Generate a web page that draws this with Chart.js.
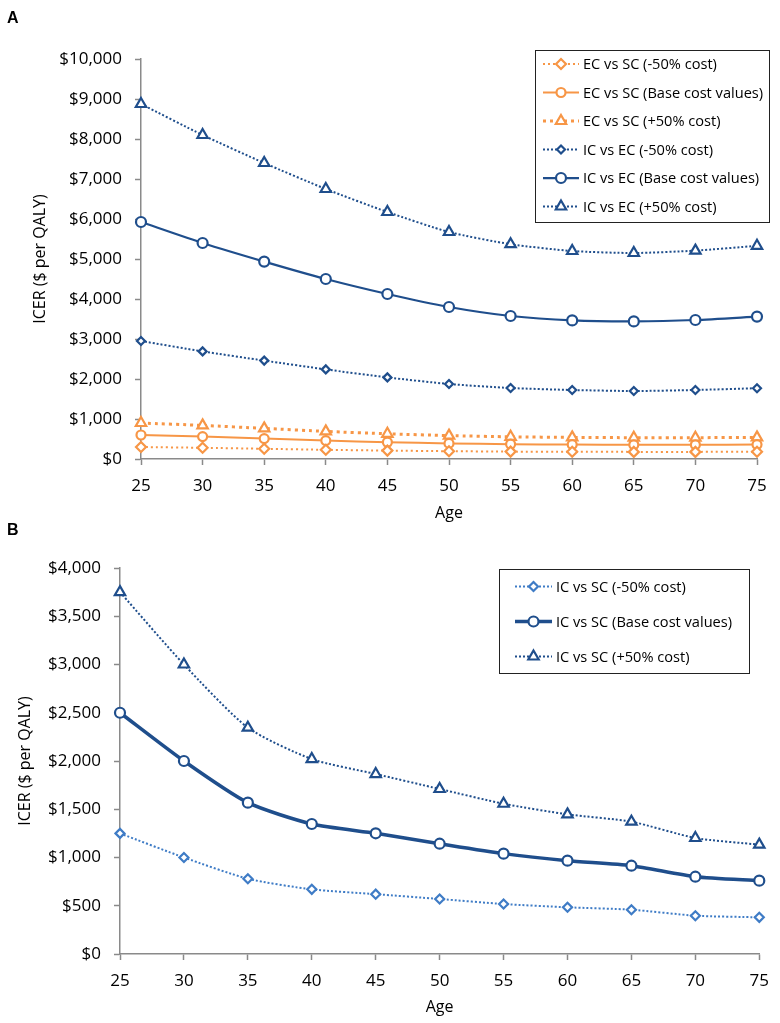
<!DOCTYPE html>
<html>
<head>
<meta charset="utf-8">
<script src="https://cdn.jsdelivr.net/npm/chart.js@4/dist/chart.umd.min.js"></script>
<style>
  body { margin: 0; background: #fff; }
  #wrap { position: relative; width: 780px; height: 1023px; }
  .panel { position: absolute; left: 0; width: 780px; }
  .tag { position: absolute; left: 7px; font: bold 16px "Liberation Sans", Arial, sans-serif; color: #000; z-index: 2; }
</style>
</head>
<body>
<div id="wrap">
  <div class="tag" style="top:9px">A</div>
  <div class="panel" style="top:0;height:525px"><canvas id="chartA"></canvas></div>
  <div class="tag" style="top:521px">B</div>
  <div class="panel" style="top:525px;height:498px"><canvas id="chartB"></canvas></div>
</div>
<script>
'use strict';
//___________DATA__________________
var ages = ['25', '30', '35', '40', '45', '50', '55', '60', '65', '70', '75'];

// panel A
var ecLow  = [300, 280, 255, 230, 210, 195, 185, 180, 178, 178, 180];
var ecBase = [600, 560, 510, 460, 420, 390, 370, 360, 355, 355, 360];
var ecHigh = [900, 840, 765, 690, 630, 585, 555, 540, 533, 533, 540];
var icLow  = [2950, 2690, 2460, 2240, 2040, 1875, 1775, 1725, 1700, 1725, 1770];
var icBase = [5925, 5400, 4935, 4500, 4125, 3800, 3575, 3465, 3440, 3475, 3560];
var icHigh = [8875, 8100, 7400, 6750, 6175, 5675, 5370, 5200, 5150, 5210, 5330];

// panel B
var scLow  = [1250, 1000, 780, 670, 620, 570, 518, 484, 459, 397, 380];
var scBase = [2500, 2000, 1568, 1347, 1251, 1143, 1040, 967, 915, 801, 760];
var scHigh = [3750, 3000, 2345, 2020, 1865, 1710, 1557, 1447, 1371, 1202, 1133];

var labelsA = ['EC vs SC (-50% cost)', 'EC vs SC (Base cost values)', 'EC vs SC (+50% cost)',
  'IC vs EC (-50% cost)', 'IC vs EC (Base cost values)', 'IC vs EC (+50% cost)'];
var labelsB = ['IC vs SC (-50% cost)', 'IC vs SC (Base cost values)', 'IC vs SC (+50% cost)'];

//___________COLORS_________________________________
var orange = '#f79646';
var navy = '#1f4e8c';
var lightBlue = '#3f7cc6';
var axisGrey = '#8a8a8a';
var FONT = '"Open Sans", "Noto Sans", sans-serif';

function series(label, data, color, width, dash, style, radius) {
  return {
    label: label,
    data: data,
    borderColor: color,
    borderWidth: width,
    borderDash: dash,
    pointStyle: style,
    pointRadius: radius,
    pointHoverRadius: radius,
    pointBorderColor: color,
    pointBackgroundColor: '#fff',
    pointBorderWidth: 2.2,
    tension: 0.22,
    fill: false,
    clip: false
  };
}

function drawMarker(ctx, ds, x, y) {
  ctx.save();
  ctx.strokeStyle = ds.pointBorderColor;
  ctx.fillStyle = ds.pointBackgroundColor;
  ctx.lineWidth = ds.pointBorderWidth;
  Chart.helpers.drawPoint(ctx, {pointStyle: ds.pointStyle, radius: ds.pointRadius, rotation: 0, borderWidth: ds.pointBorderWidth}, x, y);
  ctx.restore();
}

// legend drawn inside the plot with a frame, line sample + marker
var boxLegend = {
  id: 'boxLegend',
  afterDraw: function(chart, args, o) {
    var ctx = chart.ctx;
    ctx.save();
    ctx.strokeStyle = '#222';
    ctx.lineWidth = 1;
    ctx.strokeRect(o.x + 0.5, o.y + 0.5, o.w, o.h);
    chart.data.datasets.forEach(function(ds, i) {
      var cy = o.y + o.first + i * o.gap;
      ctx.save();
      ctx.strokeStyle = ds.borderColor;
      ctx.lineWidth = ds.borderWidth;
      ctx.setLineDash(ds.borderDash || []);
      ctx.beginPath();
      ctx.moveTo(o.lx, cy);
      ctx.lineTo(o.lx + o.lw, cy);
      ctx.stroke();
      ctx.restore();
      drawMarker(ctx, ds, o.lx + o.lw / 2, cy);
      ctx.fillStyle = '#000';
      ctx.font = o.font;
      ctx.textBaseline = 'middle';
      ctx.textAlign = 'left';
      ctx.fillText(ds.label, o.tx, cy + 1);
    });
    ctx.restore();
  }
};

function axes(yMax, yStep, yWidth, xHeight, yTitlePad, xTitlePad) {
  return {
    x: {
      offset: false,
      grid: { drawOnChartArea: false, drawTicks: true, tickLength: 6, color: axisGrey, tickColor: axisGrey, tickWidth: 1.5 },
      border: { color: axisGrey, width: 1.5 },
      ticks: { color: '#000', font: { family: FONT, size: 17 }, padding: 11, autoSkip: false, maxRotation: 0 },
      title: { display: true, text: 'Age', color: '#000', font: { family: FONT, size: 16 }, padding: { top: 0, bottom: xTitlePad } },
      afterFit: function(s) { s.height = xHeight; }
    },
    y: {
      min: 0,
      max: yMax,
      grid: { drawOnChartArea: false, drawTicks: true, tickLength: 6, color: axisGrey, tickColor: axisGrey, tickWidth: 1.5 },
      border: { color: axisGrey, width: 1.5 },
      ticks: {
        stepSize: yStep,
        color: '#000',
        font: { family: FONT, size: 17 },
        padding: 13,
        callback: function(v) { return '$' + v.toLocaleString('en-US'); }
      },
      title: { display: true, text: 'ICER ($ per QALY)', color: '#000', font: { family: FONT, size: 16 }, padding: { top: yTitlePad, bottom: 0 } },
      afterFit: function(s) { s.width = yWidth; }
    }
  };
}

//___________PANEL A_________________________________
new Chart(document.getElementById('chartA'), {
  type: 'line',
  data: {
    labels: ages,
    datasets: [
      series(labelsA[0], ecLow, orange, 2, [2, 3], 'rectRot', 5),
      series(labelsA[1], ecBase, orange, 2, [], 'circle', 4.5),
      series(labelsA[2], ecHigh, orange, 3, [3, 4], 'triangle', 6),
      series(labelsA[3], icLow, navy, 2, [2, 2], 'rectRot', 4),
      series(labelsA[4], icBase, navy, 2.25, [], 'circle', 5),
      series(labelsA[5], icHigh, navy, 2, [2, 2], 'triangle', 6)
    ]
  },
  options: {
    responsive: true,
    maintainAspectRatio: false,
    animation: false,
    layout: { padding: { top: 59, right: 23, bottom: 0, left: 0 } },
    scales: axes(10000, 1000, 141, 66, 31, 2),
    plugins: {
      legend: { display: false },
      tooltip: { enabled: false },
      boxLegend: { x: 535, y: 50, w: 234, h: 172, first: 14, gap: 28.5, lx: 543, lw: 36, tx: 583, font: '14.6px ' + FONT }
    }
  },
  plugins: [boxLegend]
});

//___________PANEL B_________________________________
new Chart(document.getElementById('chartB'), {
  type: 'line',
  data: {
    labels: ages,
    datasets: [
      series(labelsB[0], scLow, lightBlue, 2, [2, 2], 'rectRot', 4.5),
      series(labelsB[1], scBase, navy, 3.5, [], 'circle', 5),
      series(labelsB[2], scHigh, navy, 2, [2, 2], 'triangle', 6)
    ]
  },
  options: {
    responsive: true,
    maintainAspectRatio: false,
    animation: false,
    layout: { padding: { top: 43, right: 16, bottom: 0, left: 0 } },
    scales: axes(4000, 500, 120, 69, 16, 6),
    plugins: {
      legend: { display: false },
      tooltip: { enabled: false },
      boxLegend: { x: 499, y: 44, w: 250, h: 104, first: 17.5, gap: 35, lx: 515, lw: 37, tx: 556, font: '14.6px ' + FONT }
    }
  },
  plugins: [boxLegend]
});
</script>
</body>
</html>
